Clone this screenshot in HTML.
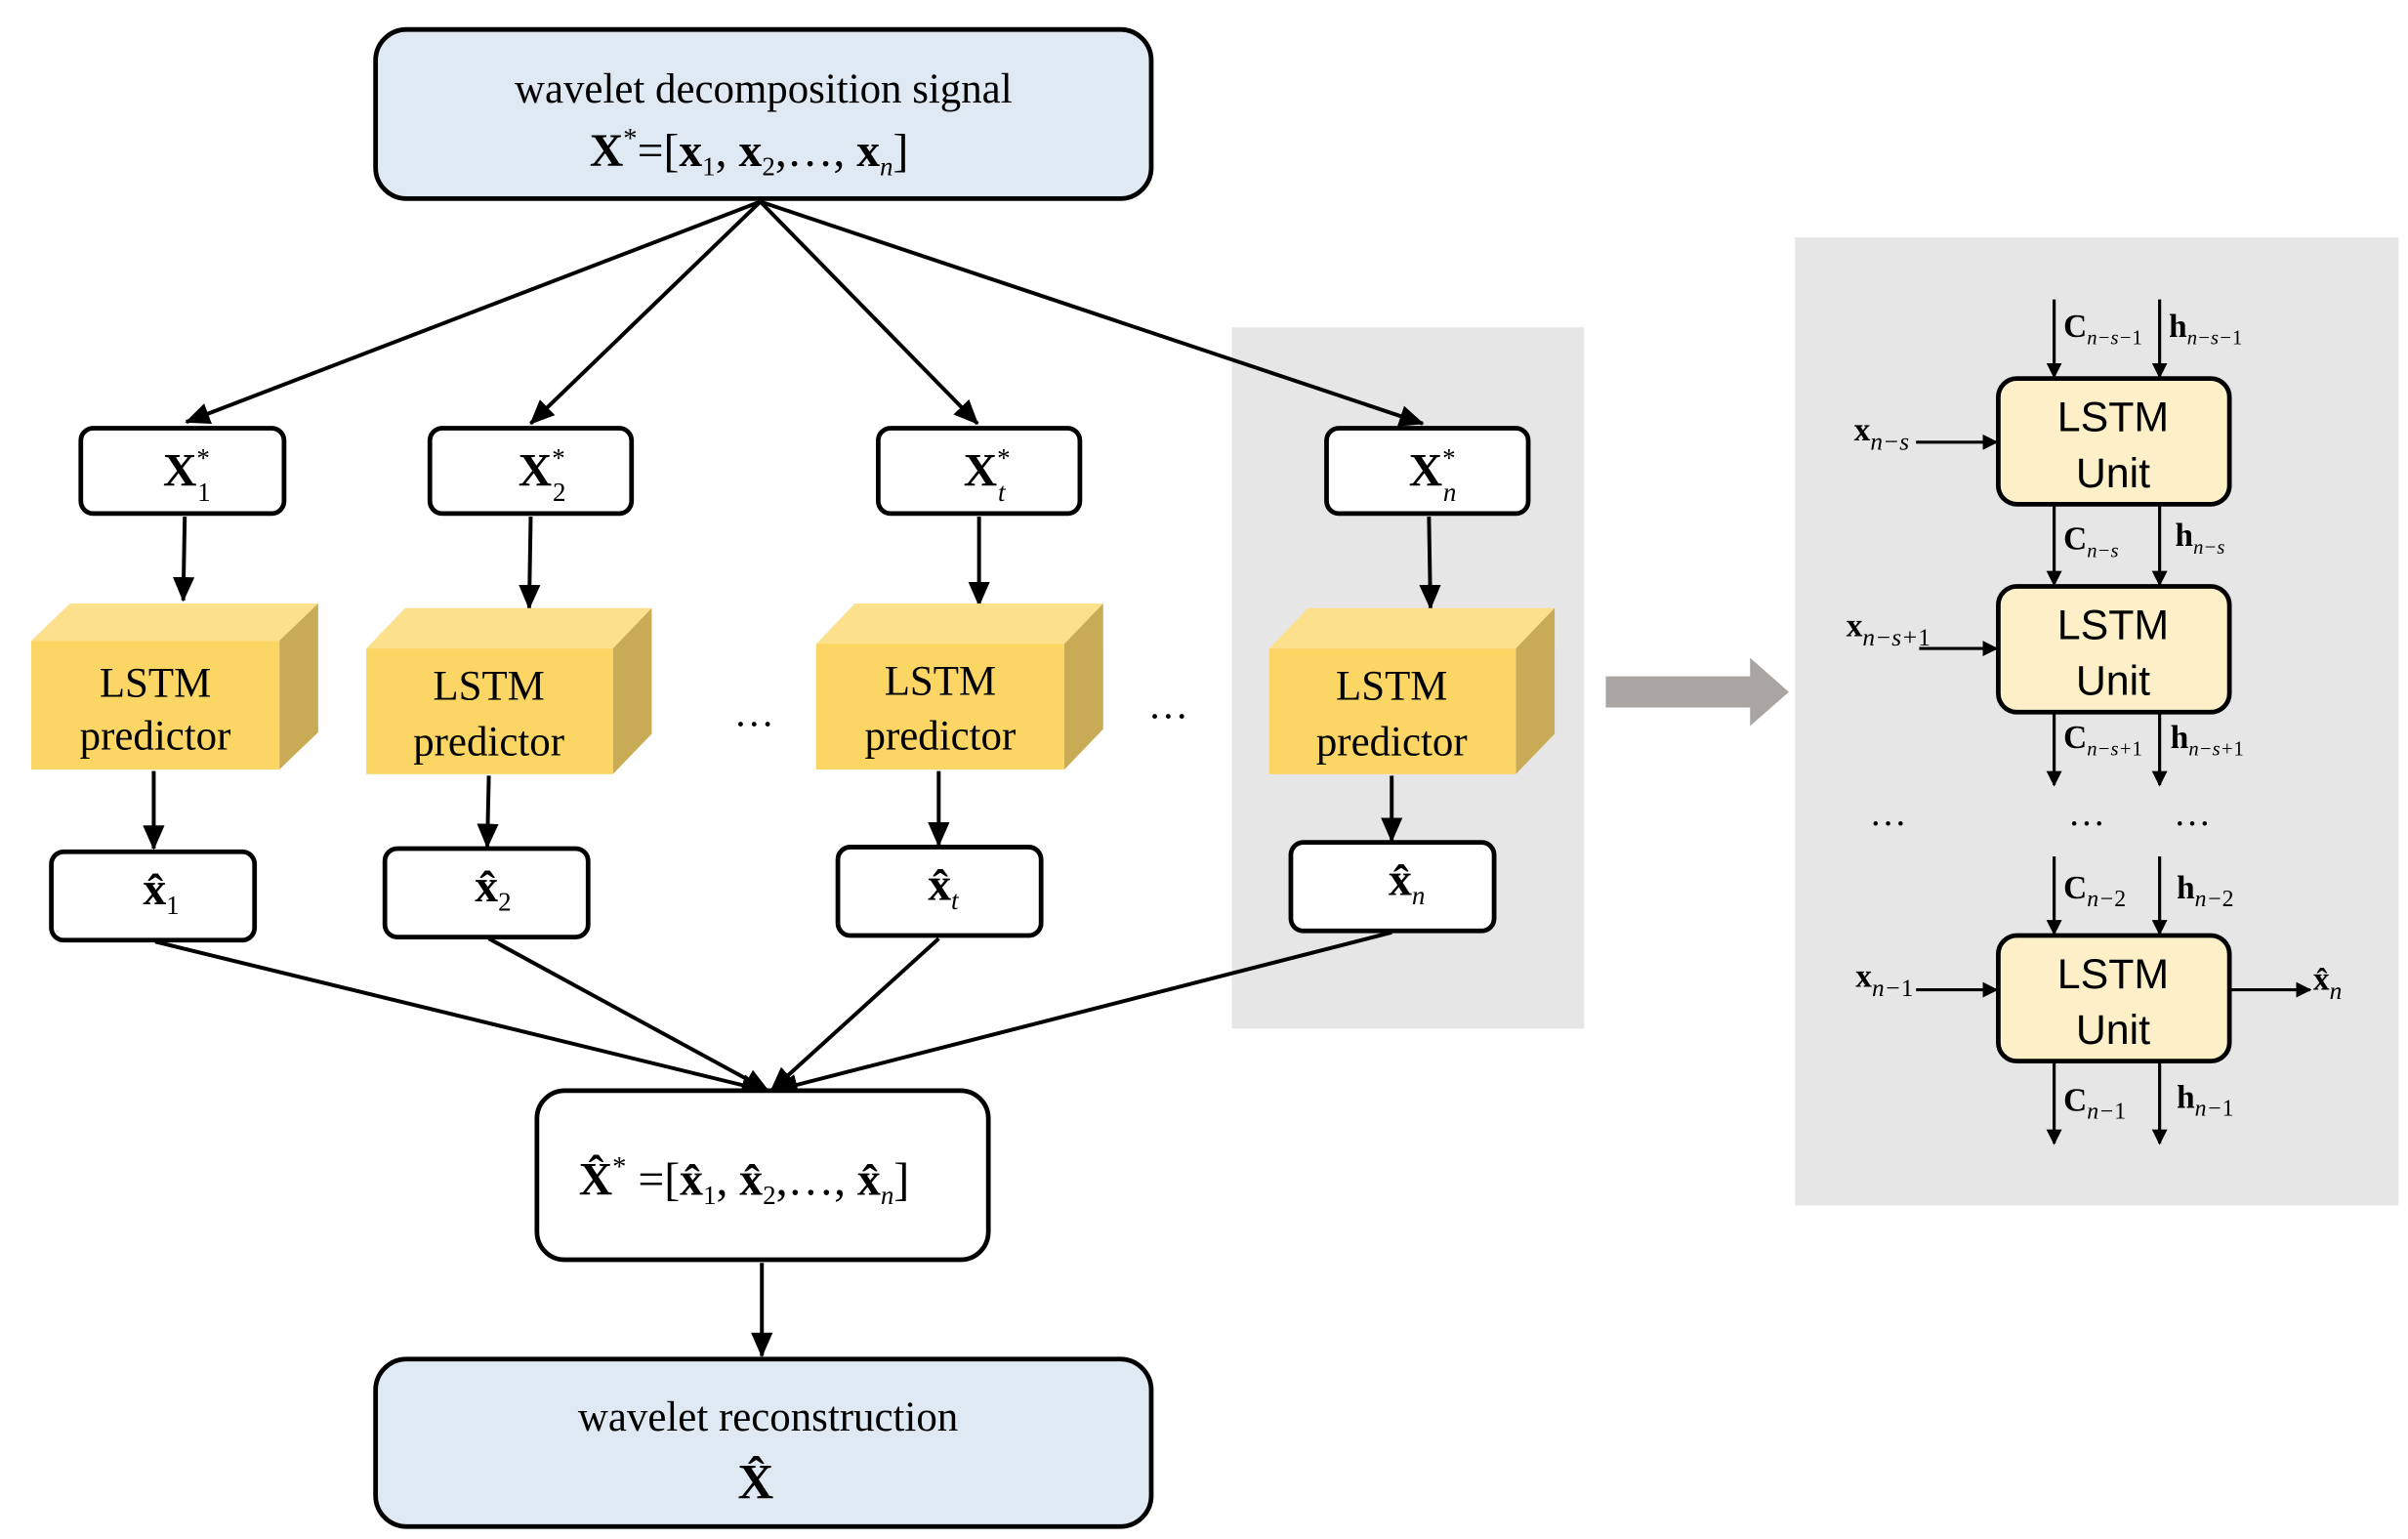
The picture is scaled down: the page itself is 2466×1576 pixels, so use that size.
<!DOCTYPE html>
<html><head><meta charset="utf-8"><style>
html,body{margin:0;padding:0;background:#fff;}
svg{display:block;}
text{font-family:"Liberation Serif",serif;fill:#000;}
</style></head><body>
<svg width="2466" height="1576" viewBox="0 0 1552 992" xmlns="http://www.w3.org/2000/svg">
<defs>
<marker id="ah" markerWidth="10" markerHeight="10" refX="9" refY="5" orient="auto" markerUnits="userSpaceOnUse" viewBox="0 0 10 10">
<path d="M0,0 L10,5 L0,10 z" fill="#000"/></marker>
<marker id="ah2" markerWidth="16" markerHeight="14" refX="15" refY="7" orient="auto" markerUnits="userSpaceOnUse" viewBox="0 0 16 14">
<path d="M0,0 L16,7 L0,14 z" fill="#000"/></marker>
</defs>
<rect width="1552" height="992" fill="#fff"/>
<rect x="794" y="211" width="227" height="452" fill="#e6e6e6"/>
<rect x="1157" y="153" width="389" height="624" fill="#e6e6e6"/>
<polygon points="1035,436 1128,436 1128,424 1153,446 1128,468 1128,456 1035,456" fill="#a9a5a3"/>

<rect x="242" y="19" width="500" height="109" rx="20" fill="#dfe9f4" stroke="#000" stroke-width="3"/>
<text x="492" y="66" font-size="27" text-anchor="middle">wavelet decomposition signal</text>
<text x="380" y="107" font-size="30"><tspan font-weight="bold">X</tspan><tspan font-size="18" dy="-12">*</tspan><tspan dy="12">=[</tspan><tspan font-weight="bold">x</tspan><tspan font-size="17" dy="6">1</tspan><tspan dy="-6">, </tspan><tspan font-weight="bold">x</tspan><tspan font-size="17" dy="6">2</tspan><tspan dy="-6">,…, </tspan><tspan font-weight="bold">x</tspan><tspan font-size="17" dy="6" font-style="italic">n</tspan><tspan dy="-6">]</tspan></text>

<g stroke="#000" stroke-width="2.5" fill="none" marker-end="url(#ah2)">
<line x1="490" y1="130" x2="120" y2="272"/>
<line x1="490" y1="130" x2="342" y2="273"/>
<line x1="490" y1="130" x2="630" y2="273"/>
<line x1="490" y1="130" x2="917" y2="273"/>
<line x1="119" y1="333" x2="118" y2="387"/>
<line x1="342" y1="333" x2="341" y2="392"/>
<line x1="631" y1="333" x2="631" y2="390"/>
<line x1="921" y1="333" x2="922" y2="392"/>
<line x1="99" y1="497" x2="99" y2="547"/>
<line x1="315" y1="500" x2="314" y2="546"/>
<line x1="605" y1="497" x2="605" y2="545"/>
<line x1="897" y1="500" x2="897" y2="542"/>
<line x1="100" y1="607" x2="493" y2="703"/>
<line x1="315" y1="605" x2="495" y2="703"/>
<line x1="605" y1="605" x2="497" y2="703"/>
<line x1="897" y1="601" x2="499" y2="703"/>
<line x1="491" y1="814" x2="491" y2="874"/>
</g>

<g stroke="#000" stroke-width="3" fill="#fff">
<rect x="52" y="276" width="131" height="55" rx="8"/>
<rect x="277" y="276" width="130" height="55" rx="8"/>
<rect x="566" y="276" width="130" height="55" rx="8"/>
<rect x="855" y="276" width="130" height="55" rx="8"/>
<rect x="33" y="549" width="131" height="57" rx="8"/>
<rect x="248" y="547" width="131" height="57" rx="8"/>
<rect x="540" y="546" width="131" height="57" rx="8"/>
<rect x="832" y="543" width="131" height="57" rx="8"/>
</g>
<g font-size="30" font-weight="bold">
<text x="105" y="313">X<tspan font-size="17" dy="-12" font-weight="normal">*</tspan><tspan font-size="17" dx="-8" dy="22" font-weight="normal">1</tspan></text>
<text x="334" y="313">X<tspan font-size="17" dy="-12" font-weight="normal">*</tspan><tspan font-size="17" dx="-8" dy="22" font-weight="normal">2</tspan></text>
<text x="621" y="313">X<tspan font-size="17" dy="-12" font-weight="normal">*</tspan><tspan font-size="17" dx="-8" dy="22" font-weight="normal" font-style="italic">t</tspan></text>
<text x="908" y="313">X<tspan font-size="17" dy="-12" font-weight="normal">*</tspan><tspan font-size="17" dx="-8" dy="22" font-weight="normal" font-style="italic">n</tspan></text>
<text x="92" y="583">x̂<tspan font-size="17" dy="6" font-weight="normal">1</tspan></text>
<text x="306" y="581">x̂<tspan font-size="17" dy="6" font-weight="normal">2</tspan></text>
<text x="598" y="580">x̂<tspan font-size="17" dy="6" font-weight="normal" font-style="italic">t</tspan></text>
<text x="895" y="577">x̂<tspan font-size="17" dy="6" font-weight="normal" font-style="italic">n</tspan></text>
</g>

<g>
<g transform="translate(20,413)">
<polygon points="0,0 25,-24 185,-24 160,0" fill="#fde08c"/>
<polygon points="160,0 185,-24 185,59 160,83" fill="#c9aa55"/>
<rect x="0" y="0" width="160" height="83" fill="#fcd665"/>
<text x="80" y="36" font-size="27" text-anchor="middle">LSTM</text>
<text x="80" y="70" font-size="27" text-anchor="middle">predictor</text>
</g>
<g transform="translate(236,418)">
<polygon points="0,0 25,-26 184,-26 159,0" fill="#fde08c"/>
<polygon points="159,0 184,-26 184,55 159,81" fill="#c9aa55"/>
<rect x="0" y="0" width="159" height="81" fill="#fcd665"/>
<text x="79" y="33" font-size="27" text-anchor="middle">LSTM</text>
<text x="79" y="69" font-size="27" text-anchor="middle">predictor</text>
</g>
<g transform="translate(526,415)">
<polygon points="0,0 25,-26 185,-26 160,0" fill="#fde08c"/>
<polygon points="160,0 185,-26 185,55 160,81" fill="#c9aa55"/>
<rect x="0" y="0" width="160" height="81" fill="#fcd665"/>
<text x="80" y="33" font-size="27" text-anchor="middle">LSTM</text>
<text x="80" y="68" font-size="27" text-anchor="middle">predictor</text>
</g>
<g transform="translate(818,418)">
<polygon points="0,0 25,-26 184,-26 159,0" fill="#fde08c"/>
<polygon points="159,0 184,-26 184,55 159,81" fill="#c9aa55"/>
<rect x="0" y="0" width="159" height="81" fill="#fcd665"/>
<text x="79" y="33" font-size="27" text-anchor="middle">LSTM</text>
<text x="79" y="69" font-size="27" text-anchor="middle">predictor</text>
</g>
</g>
<text x="486" y="468" font-size="26" text-anchor="middle">…</text>
<text x="753" y="463" font-size="26" text-anchor="middle">…</text>

<rect x="346" y="703" width="291" height="109" rx="18" fill="#fff" stroke="#000" stroke-width="3"/>
<text x="373" y="770" font-size="30"><tspan font-weight="bold">X̂</tspan><tspan font-size="18" dy="-12">*</tspan><tspan dy="12"> =[</tspan><tspan font-weight="bold">x̂</tspan><tspan font-size="17" dy="6">1</tspan><tspan dy="-6">, </tspan><tspan font-weight="bold">x̂</tspan><tspan font-size="17" dy="6">2</tspan><tspan dy="-6">,…, </tspan><tspan font-weight="bold">x̂</tspan><tspan font-size="17" dy="6" font-style="italic">n</tspan><tspan dy="-6">]</tspan></text>

<rect x="242" y="876" width="500" height="108" rx="20" fill="#dfe9f4" stroke="#000" stroke-width="3"/>
<text x="495" y="922" font-size="27" text-anchor="middle" fill="#333">wavelet reconstruction</text>
<text x="487" y="966" font-size="32" text-anchor="middle" font-weight="bold">X̂</text>

<g stroke="#000" stroke-width="3" fill="#fdf0c8">
<rect x="1288" y="244" width="149" height="81" rx="12"/>
<rect x="1288" y="378" width="149" height="81" rx="12"/>
<rect x="1288" y="603" width="149" height="81" rx="12"/>
</g>
<g font-size="27" text-anchor="middle">
<text x="1362" y="278" style="font-family:'Liberation Sans',sans-serif">LSTM</text>
<text x="1362" y="314" style="font-family:'Liberation Sans',sans-serif">Unit</text>
<text x="1362" y="412" style="font-family:'Liberation Sans',sans-serif">LSTM</text>
<text x="1362" y="448" style="font-family:'Liberation Sans',sans-serif">Unit</text>
<text x="1362" y="637" style="font-family:'Liberation Sans',sans-serif">LSTM</text>
<text x="1362" y="673" style="font-family:'Liberation Sans',sans-serif">Unit</text>
</g>
<g stroke="#000" stroke-width="2" marker-end="url(#ah)">
<line x1="1324" y1="193" x2="1324" y2="243"/>
<line x1="1392" y1="193" x2="1392" y2="243"/>
<line x1="1235" y1="285" x2="1287" y2="285"/>
<line x1="1324" y1="326" x2="1324" y2="377"/>
<line x1="1392" y1="326" x2="1392" y2="377"/>
<line x1="1237" y1="418" x2="1287" y2="418"/>
<line x1="1324" y1="460" x2="1324" y2="506"/>
<line x1="1392" y1="460" x2="1392" y2="506"/>
<line x1="1324" y1="552" x2="1324" y2="602"/>
<line x1="1392" y1="552" x2="1392" y2="602"/>
<line x1="1235" y1="638" x2="1287" y2="638"/>
<line x1="1438" y1="638" x2="1489" y2="638"/>
<line x1="1324" y1="685" x2="1324" y2="737"/>
<line x1="1392" y1="685" x2="1392" y2="737"/>
</g>
<g font-size="21" font-weight="bold">
<text x="1330" y="217">C<tspan font-size="13" dy="5" font-weight="normal" font-style="italic">n−s−</tspan><tspan font-size="13" font-weight="normal">1</tspan></text>
<text x="1398" y="217">h<tspan font-size="13" dy="5" font-weight="normal" font-style="italic">n−s−</tspan><tspan font-size="13" font-weight="normal">1</tspan></text>
<text x="1195" y="284">x<tspan font-size="16" dy="6" font-weight="normal" font-style="italic">n−s</tspan></text>
<text x="1330" y="354">C<tspan font-size="13" dy="5" font-weight="normal" font-style="italic">n−s</tspan></text>
<text x="1402" y="352">h<tspan font-size="13" dy="5" font-weight="normal" font-style="italic">n−s</tspan></text>
<text x="1190" y="410">x<tspan font-size="16" dy="6" font-weight="normal" font-style="italic">n−s+</tspan><tspan font-size="16" font-weight="normal">1</tspan></text>
<text x="1330" y="482">C<tspan font-size="13" dy="5" font-weight="normal" font-style="italic">n−s+</tspan><tspan font-size="13" font-weight="normal">1</tspan></text>
<text x="1399" y="482">h<tspan font-size="13" dy="5" font-weight="normal" font-style="italic">n−s+</tspan><tspan font-size="13" font-weight="normal">1</tspan></text>
<text x="1330" y="579">C<tspan font-size="15" dy="5" font-weight="normal" font-style="italic">n−</tspan><tspan font-size="15" font-weight="normal">2</tspan></text>
<text x="1403" y="579">h<tspan font-size="15" dy="5" font-weight="normal" font-style="italic">n−</tspan><tspan font-size="15" font-weight="normal">2</tspan></text>
<text x="1196" y="636">x<tspan font-size="16" dy="6" font-weight="normal" font-style="italic">n−</tspan><tspan font-size="16" font-weight="normal">1</tspan></text>
<text x="1491" y="638">x̂<tspan font-size="16" dy="6" font-weight="normal" font-style="italic">n</tspan></text>
<text x="1330" y="716">C<tspan font-size="15" dy="5" font-weight="normal" font-style="italic">n−</tspan><tspan font-size="15" font-weight="normal">1</tspan></text>
<text x="1403" y="714">h<tspan font-size="15" dy="5" font-weight="normal" font-style="italic">n−</tspan><tspan font-size="15" font-weight="normal">1</tspan></text>
</g>
<g font-size="24" text-anchor="middle">
<text x="1217" y="532">…</text>
<text x="1345" y="532">…</text>
<text x="1413" y="532">…</text>
</g>
</svg>
</body></html>
